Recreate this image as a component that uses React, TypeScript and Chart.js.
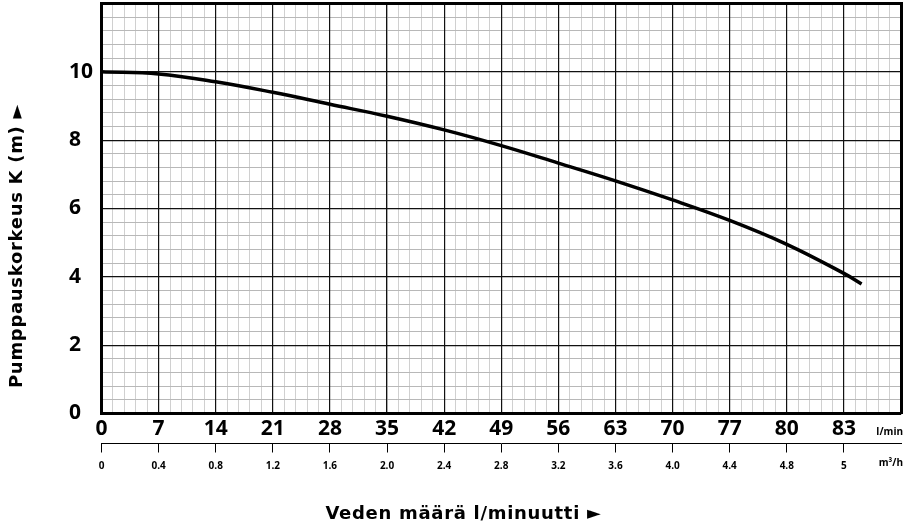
import React, { useEffect, useRef } from 'react';
import { Chart, registerables } from 'chart.js';

Chart.register(...registerables);

// Tick labels
const flowLabels = ['0', '7', '14', '21', '28', '35', '42', '49', '56', '63', '70', '77', '80', '83'];
const m3hLabels = ['0', '0.4', '0.8', '1.2', '1.6', '2.0', '2.4', '2.8', '3.2', '3.6', '4.0', '4.4', '4.8', '5'];
const headTicks = [0, 2, 4, 6, 8, 10];

// Pump curve: position along the flow grid (one unit = one labelled column) and head (m)
const curvePos = [0, 1, 2, 3, 4, 5, 6, 7, 8, 9, 10, 11, 12, 13, 13.31];
const curveHead = [10.0, 9.94, 9.71, 9.4, 9.05, 8.7, 8.3, 7.84, 7.33, 6.81, 6.25, 5.65, 4.95, 4.1, 3.79];

const xTitle = 'Veden määrä l/minuutti ►';
const yTitle = 'Pumppauskorkeus K (m) ►';
const unitFlow = 'l/min';
const unitM3h = 'm³/h';

const X_MAX = 14;
const Y_MAX = 12;
const FONT = '"Open Sans", "DejaVu Sans", sans-serif';
const TITLE_FONT = '"DejaVu Sans", "Open Sans", sans-serif';

const range = (from: number, to: number, step: number) => {
  const out: number[] = [];
  const n = Math.round((to - from) / step);
  for (let i = 0; i <= n; i++) out.push(+(from + i * step).toFixed(4));
  return out;
};

const titlesPlugin = {
  id: 'titles',
  afterDraw(chart: any) {
    const ctx = chart.ctx as CanvasRenderingContext2D;
    ctx.save();
    ctx.fillStyle = '#000';
    ctx.font = `bold 18px ${TITLE_FONT}`;
    (ctx as any).letterSpacing = '0.7px';
    ctx.textAlign = 'center';
    ctx.textBaseline = 'alphabetic';
    ctx.fillText(xTitle, 463.5, 518.5);
    ctx.save();
    ctx.translate(21.5, 246);
    ctx.rotate(-Math.PI / 2);
    ctx.fillText(yTitle, 0, 0);
    ctx.restore();
    (ctx as any).letterSpacing = '0px';
    ctx.font = `bold 10px ${FONT}`;
    ctx.textAlign = 'right';
    ctx.textBaseline = 'middle';
    ctx.fillText(unitFlow, 903, 432);
    ctx.fillText(unitM3h, 903, 463);
    ctx.restore();
  },
};

export default function App() {
  const ref = useRef<HTMLCanvasElement | null>(null);

  useEffect(() => {
    document.body.style.margin = '0';
    const canvas = ref.current;
    if (!canvas) return;
    const chart = new Chart(canvas, {
      type: 'line',
      data: {
        datasets: [
          {
            data: curvePos.map((x, i) => ({ x, y: curveHead[i] })),
            borderColor: '#000',
            borderWidth: 3.5,
            pointRadius: 0,
            fill: false,
            tension: 0.4,
            xAxisID: 'x',
            yAxisID: 'y',
          },
        ],
      },
      options: {
        responsive: false,
        animation: false,
        devicePixelRatio: 1,
        layout: { padding: { left: 69, top: 3.5, right: 9, bottom: 47.5 } },
        plugins: { legend: { display: false }, tooltip: { enabled: false } },
        scales: {
          xMinor: {
            type: 'linear',
            position: 'top',
            min: 0,
            max: X_MAX,
            z: -1,
            afterBuildTicks: (s: any) => {
              s.ticks = range(0, X_MAX, 0.2).map((v) => ({ value: v }));
            },
            afterFit: (s: any) => {
              s.height = 0;
              s.paddingLeft = 0;
              s.paddingRight = 0;
            },
            ticks: { display: false },
            grid: { color: '#d0d0d0', lineWidth: 1, borderDash: [2, 2], drawTicks: false },
            border: { display: true, color: '#000', width: 3 },
          },
          yMinor: {
            type: 'linear',
            position: 'right',
            min: 0,
            max: Y_MAX,
            z: -1,
            afterBuildTicks: (s: any) => {
              s.ticks = range(0, Y_MAX, 0.4).map((v) => ({ value: v }));
            },
            afterFit: (s: any) => {
              s.width = 0;
              s.paddingTop = 0;
              s.paddingBottom = 0;
            },
            ticks: { display: false },
            grid: { color: '#b8b8b8', lineWidth: 1, borderDash: [2, 2], drawTicks: false },
            border: { display: true, color: '#000', width: 3 },
          },
          x: {
            type: 'linear',
            position: 'bottom',
            weight: 0,
            min: 0,
            max: X_MAX,
            afterBuildTicks: (s: any) => {
              s.ticks = range(0, X_MAX, 1).map((v) => ({ value: v }));
            },
            afterFit: (s: any) => {
              s.height = 30;
              s.paddingLeft = 0;
              s.paddingRight = 0;
            },
            ticks: {
              autoSkip: false,
              maxRotation: 0,
              padding: 5,
              color: '#000',
              font: { family: FONT, size: 21, weight: 'bold', lineHeight: 1 },
              callback: (_v: any, i: number) => flowLabels[i] ?? '',
            },
            grid: { color: '#111', lineWidth: 1.2, drawTicks: false },
            border: { display: true, color: '#000', width: 3 },
          },
          x3: {
            type: 'linear',
            position: 'bottom',
            weight: 1,
            min: 0,
            max: X_MAX,
            afterBuildTicks: (s: any) => {
              s.ticks = range(0, m3hLabels.length - 1, 1).map((v) => ({ value: v }));
            },
            afterFit: (s: any) => {
              s.height = 40;
              s.paddingLeft = 0;
              s.paddingRight = 0;
            },
            ticks: {
              autoSkip: false,
              maxRotation: 0,
              padding: 8,
              color: '#000',
              font: { family: FONT, size: 10, weight: 'bold', lineHeight: 1.2 },
              callback: (_v: any, i: number) => m3hLabels[i] ?? '',
            },
            grid: { drawOnChartArea: false, drawTicks: true, tickLength: 9, color: '#000', lineWidth: 1 },
            border: { display: true, color: '#000', width: 1 },
          },
          y: {
            type: 'linear',
            position: 'left',
            min: 0,
            max: Y_MAX,
            afterBuildTicks: (s: any) => {
              s.ticks = headTicks.map((v) => ({ value: v }));
            },
            afterFit: (s: any) => {
              s.width = 32.5;
              s.paddingTop = 0;
              s.paddingBottom = 0;
            },
            ticks: {
              crossAlign: 'far',
              color: '#000',
              font: { family: FONT, size: 21, weight: 'bold', lineHeight: 1 },
              callback: (_v: any, i: number) => String(headTicks[i]),
            },
            grid: { color: '#111', lineWidth: 1.2, drawTicks: false },
            border: { display: true, color: '#000', width: 3 },
          },
        },
      } as any,
      plugins: [titlesPlugin],
    });
    return () => chart.destroy();
  }, []);

  return <canvas ref={ref} width={910} height={531} style={{ display: 'block' }} />;
}
